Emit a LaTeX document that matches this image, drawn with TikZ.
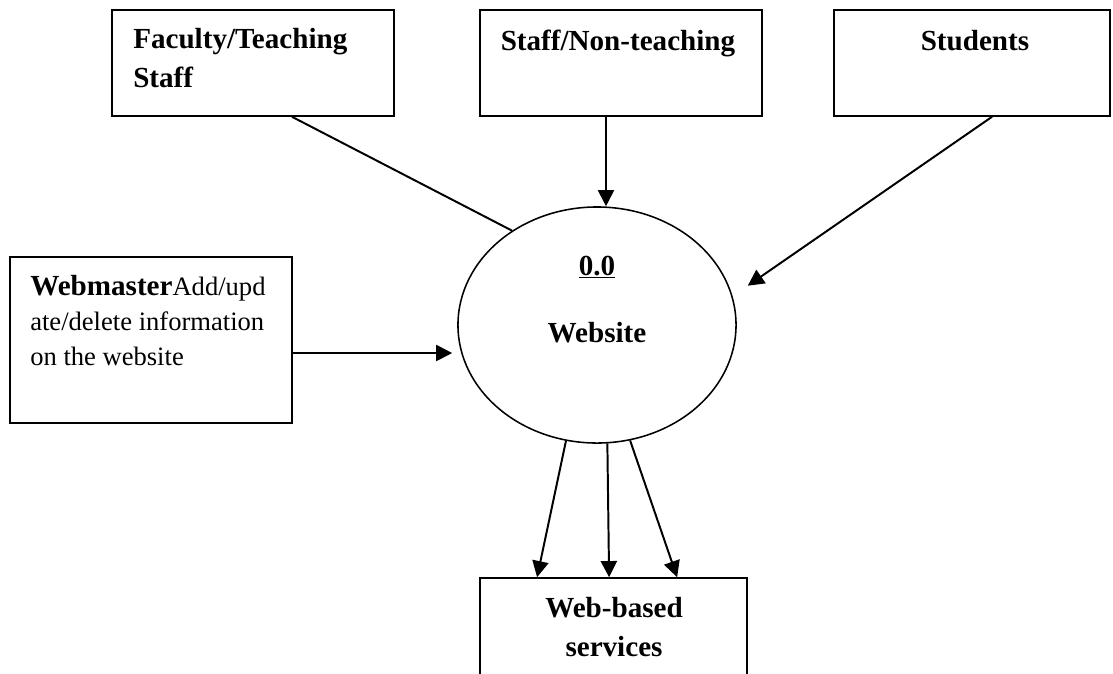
\documentclass[tikz,border=0pt]{standalone}
\usepackage{fontspec}
\setmainfont{Liberation Serif}
\usetikzlibrary{arrows.meta,shapes.geometric}
\tikzset{
  entity/.style={draw,line width=1.1pt,inner sep=0pt},
  process/.style={draw,ellipse,line width=1.1pt,minimum width=6.95cm,minimum height=5.9cm,inner sep=0pt},
  flow/.style={line width=1.4pt,-{Triangle[length=11.5pt,width=11.5pt]}},
  plain/.style={line width=1.4pt},
  lbl/.style={inner sep=0pt,font=\fontsize{20.7}{27.7}\selectfont\bfseries},
  note/.style={inner sep=0pt,align=left,font=\fontsize{18.9}{24.9}\selectfont}
}
\newcommand{\bigbf}[1]{{\fontsize{20.7}{24.9}\selectfont\bfseries #1}}
\begin{document}
\begin{tikzpicture}[x=0.025cm,y=-0.025cm]
  \useasboundingbox (0,0) rectangle (1113,673);
  \clip (0,0) rectangle (1113,673);
  \node[entity,minimum width=7.05cm,minimum height=2.65cm] (fac) at (253,63) {};
  \node[entity,minimum width=7.05cm,minimum height=2.65cm] (staff) at (621,63) {};
  \node[entity,minimum width=6.9cm,minimum height=2.65cm] (stud) at (972,63) {};
  \node[entity,minimum width=7.05cm,minimum height=4.15cm] (wm) at (151,340) {};
  \node[process] (web) at (597,325) {};
  \node[entity,minimum width=6.675cm,minimum height=3.3cm] (svc) at (613.5,644) {};
  \node[lbl,anchor=north west,align=left] (facT) at (133,28) {Faculty/Teaching\\Staff};
  \node[lbl,anchor=base] (staffT) at (618,50) {Staff/Non-teaching};
  \node[lbl,anchor=base] (studT) at (975,50) {Students};
  \node[note,anchor=north west] (wmT) at (30,275) {\bigbf{Webmaster}Add/upd\\ate/delete information\\on the website};
  \node[lbl,anchor=base] (num) at (597,275) {\underline{0.0}};
  \node[lbl,anchor=base] (webT) at (597,342) {Website};
  \node[lbl,anchor=north,align=center] (svcT) at (614,597) {Web-based\\services};
  \draw[plain] ([xshift=0.975cm]fac.south) -- (web.132);
  \draw[flow] ([xshift=-0.375cm]staff.south) coordinate (s1) -- (s1 |- web.north);
  \draw[flow,shorten >=0.46cm] ([xshift=0.5cm]stud.south) -- (web.12);
  \draw[flow,shorten >=0.125cm] ([yshift=-0.325cm]wm.east) -- ([yshift=-0.325cm]wm.east -| web.west);
  \foreach \a/\d in {255/-1.91,275/-0.11,286/1.59}
    \draw[flow] (web.\a) -- ([xshift=\d cm]svc.north);
\end{tikzpicture}
\end{document}
